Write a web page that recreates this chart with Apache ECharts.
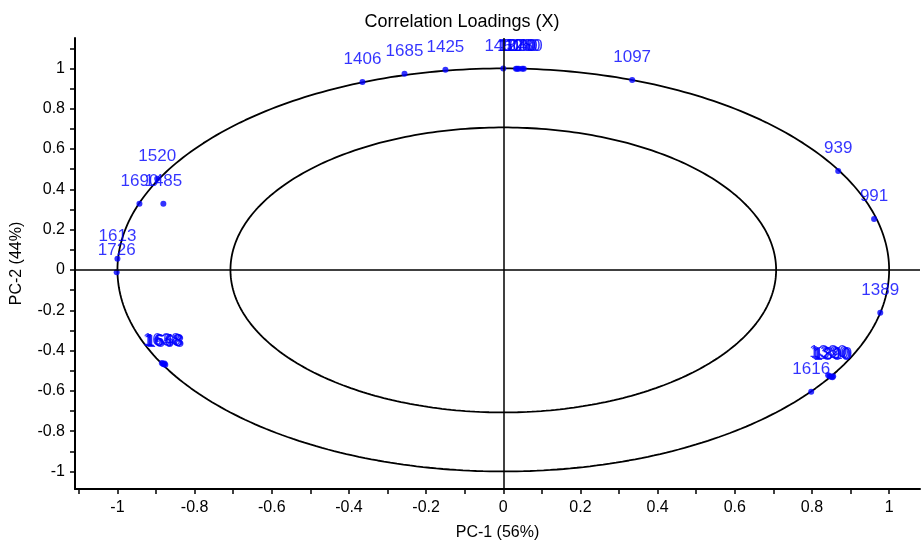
<!DOCTYPE html>
<html>
<head>
<meta charset="utf-8">
<script src="https://cdn.jsdelivr.net/npm/echarts@6/dist/echarts.min.js"></script>
<style>
html,body{margin:0;padding:0;background:#fff;}
#chart{width:924px;height:541px;}
</style>
</head>
<body>
<div id="chart"></div>
<script>
// ---- data ----
var varNames = ['1406','1685','1425','1450','1370','1240','1030','1160','1280','1097','939','991','1389','1616',
  '1330','1320','1290','1300','1310','1520','1690','1485','1613','1726','1638','1658','1648','1668','1598'];
var pc1 = [-0.365,-0.256,-0.150,0.000,0.033,0.036,0.040,0.049,0.053,0.334,0.868,0.961,0.977,0.798,
  0.842,0.846,0.850,0.853,0.855,-0.897,-0.943,-0.881,-1.000,-1.002,-0.885,-0.882,-0.880,-0.878,-0.876];
var pc2 = [0.933,0.973,0.993,1.000,0.999,0.999,0.999,0.998,0.998,0.943,0.491,0.253,-0.213,-0.605,
  -0.522,-0.527,-0.530,-0.533,-0.528,0.452,0.328,0.328,0.055,-0.012,-0.462,-0.465,-0.468,-0.464,-0.470];
var xLabelTicks = [-1,-0.8,-0.6,-0.4,-0.2,0,0.2,0.4,0.6,0.8,1];
var yLabelTicks = [-1,-0.8,-0.6,-0.4,-0.2,0,0.2,0.4,0.6,0.8,1];
var xMinorTicks = [-1.1,-1,-0.9,-0.8,-0.7,-0.6,-0.5,-0.4,-0.3,-0.2,-0.1,0,0.1,0.2,0.3,0.4,0.5,0.6,0.7,0.8,0.9,1];
var yMinorTicks = [-1,-0.9,-0.8,-0.7,-0.6,-0.5,-0.4,-0.3,-0.2,-0.1,0,0.1,0.2,0.3,0.4,0.5,0.6,0.7,0.8,0.9,1,1.1];
var ellipseRadii = [1, Math.SQRT1_2];

// ---- build ----
var FONT = "'Liberation Sans', Arial, sans-serif";
var pts = varNames.map(function(n,i){ return [pc1[i], pc2[i], n]; });
function ring(r){
  var out = [];
  for (var k = 0; k <= 360; k++) {
    var a = k * Math.PI / 180;
    out.push([r*Math.cos(a), r*Math.sin(a)]);
  }
  return out;
}
var series = ellipseRadii.map(function(r){
  return {type:'line', data:ring(r), showSymbol:false, smooth:false, silent:true,
    lineStyle:{color:'#000', width:1.8}, z:1};
});
series.push({
  type:'scatter', data:pts, symbolSize:6, z:3,
  itemStyle:{color:'#0000ff'},
  label:{show:true, position:'top', distance:11, formatter:function(p){return p.data[2];},
    color:'#0000ff', fontSize:17, fontFamily:FONT},
  labelLayout:{hideOverlap:false},
  markLine:{silent:true, symbol:'none', label:{show:false},
    lineStyle:{color:'#000', width:1.5, type:'solid'},
    data:[{xAxis:0},{yAxis:0}]}
});

var chart = echarts.init(document.getElementById('chart'));
chart.setOption({
  animation:false,
  backgroundColor:'#fff',
  title:{text:'Correlation Loadings (X)', left:'center', top:8,
    textStyle:{color:'#000', fontSize:18, fontWeight:'normal', fontFamily:FONT}},
  grid:{left:75, right:4, top:38, bottom:52, outerBoundsMode:'none', containLabel:false},
  xAxis:{type:'value', min:-1.11, max:1.08,
    name:'PC-1 (56%)', nameLocation:'middle', nameGap:36,
    nameTextStyle:{color:'#000', fontSize:16, fontFamily:FONT},
    axisLine:{onZero:false, lineStyle:{color:'#000', width:2}},
    axisTick:{show:true, customValues:xMinorTicks, length:5, lineStyle:{color:'#000', width:1.5}},
    axisLabel:{customValues:xLabelTicks, color:'#000', fontSize:16, fontFamily:FONT, margin:11},
    splitLine:{show:false}},
  yAxis:{type:'value', min:-1.087, max:1.151,
    name:'PC-2 (44%)', nameLocation:'middle', nameGap:50,
    nameTextStyle:{color:'#000', fontSize:16, fontFamily:FONT},
    axisLine:{onZero:false, lineStyle:{color:'#000', width:2}},
    axisTick:{show:true, customValues:yMinorTicks, length:5, lineStyle:{color:'#000', width:1.5}},
    axisLabel:{customValues:yLabelTicks, color:'#000', fontSize:16, fontFamily:FONT, margin:10},
    splitLine:{show:false}},
  series:series
});
</script>
</body>
</html>
